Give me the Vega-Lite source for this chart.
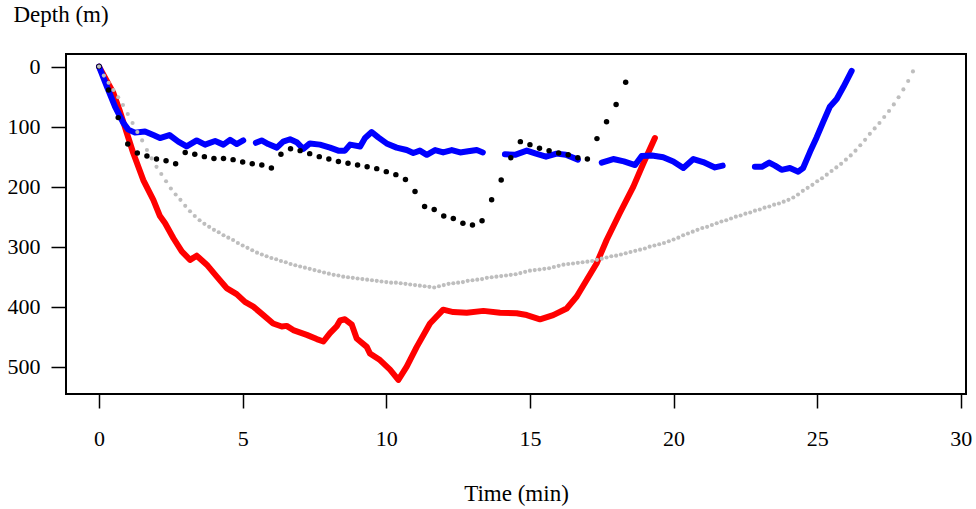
{
  "$schema": "https://vega.github.io/schema/vega-lite/v6.json",
  "width": 900,
  "height": 340,
  "autosize": "none",
  "padding": {"left": 66, "top": 54, "right": 10, "bottom": 115},
  "background": "white",
  "config": {
    "view": {"stroke": "black", "strokeWidth": 2},
    "font": "Liberation Serif",
    "axis": {
      "domain": false,
      "grid": false,
      "tickColor": "black",
      "tickWidth": 1.5,
      "tickSize": 14,
      "labelFont": "Liberation Serif",
      "labelFontSize": 22,
      "labelColor": "black",
      "titleFont": "Liberation Serif",
      "titleFontSize": 23,
      "titleFontWeight": "normal",
      "titleColor": "black"
    }
  },
  "datasets": {
    "red": [
      {"t": 0, "d": 0}, {"t": 0.5, "d": 44}, {"t": 0.73, "d": 75}, {"t": 0.97, "d": 111},
      {"t": 1.19, "d": 144}, {"t": 1.54, "d": 189}, {"t": 1.89, "d": 222}, {"t": 2.12, "d": 249},
      {"t": 2.3, "d": 261}, {"t": 2.59, "d": 286}, {"t": 2.88, "d": 308}, {"t": 3.17, "d": 322},
      {"t": 3.4, "d": 315}, {"t": 3.75, "d": 330}, {"t": 4.1, "d": 350}, {"t": 4.44, "d": 369},
      {"t": 4.79, "d": 379}, {"t": 5.08, "d": 392}, {"t": 5.37, "d": 400}, {"t": 5.72, "d": 414},
      {"t": 6.06, "d": 428}, {"t": 6.36, "d": 433}, {"t": 6.53, "d": 432}, {"t": 6.76, "d": 439},
      {"t": 7.23, "d": 447}, {"t": 7.58, "d": 454}, {"t": 7.81, "d": 458}, {"t": 8.04, "d": 444},
      {"t": 8.27, "d": 433}, {"t": 8.39, "d": 423}, {"t": 8.56, "d": 421}, {"t": 8.8, "d": 430},
      {"t": 8.97, "d": 453}, {"t": 9.32, "d": 467}, {"t": 9.43, "d": 478}, {"t": 9.78, "d": 489},
      {"t": 10.13, "d": 505}, {"t": 10.42, "d": 522}, {"t": 10.71, "d": 500}, {"t": 11.06, "d": 467},
      {"t": 11.52, "d": 428}, {"t": 11.98, "d": 405}, {"t": 12.33, "d": 409}, {"t": 12.8, "d": 410},
      {"t": 13.38, "d": 407}, {"t": 13.96, "d": 410}, {"t": 14.54, "d": 411}, {"t": 14.89, "d": 414},
      {"t": 15.35, "d": 421}, {"t": 15.81, "d": 414}, {"t": 16.28, "d": 403}, {"t": 16.63, "d": 383},
      {"t": 16.98, "d": 355}, {"t": 17.32, "d": 328}, {"t": 17.67, "d": 289}, {"t": 18.13, "d": 244},
      {"t": 18.6, "d": 200}, {"t": 18.95, "d": 161}, {"t": 19.35, "d": 119}
    ],
    "blue": [
      {"t": 0, "d": 0}, {"t": 0.27, "d": 33}, {"t": 0.56, "d": 67}, {"t": 0.85, "d": 94},
      {"t": 1.02, "d": 105}, {"t": 1.25, "d": 110}, {"t": 1.6, "d": 108}, {"t": 1.89, "d": 114},
      {"t": 2.12, "d": 119}, {"t": 2.45, "d": 114}, {"t": 2.76, "d": 125}, {"t": 3.05, "d": 133},
      {"t": 3.4, "d": 123}, {"t": 3.69, "d": 130}, {"t": 4.04, "d": 124}, {"t": 4.33, "d": 130},
      {"t": 4.56, "d": 122}, {"t": 4.79, "d": 129}, {"t": 5.02, "d": 123},
      {"t": 5.2, "d": null},
      {"t": 5.46, "d": 127}, {"t": 5.66, "d": 123}, {"t": 5.89, "d": 129}, {"t": 6.19, "d": 135},
      {"t": 6.41, "d": 125}, {"t": 6.65, "d": 121}, {"t": 6.88, "d": 126}, {"t": 7.11, "d": 137},
      {"t": 7.34, "d": 128}, {"t": 7.69, "d": 130}, {"t": 8.04, "d": 135}, {"t": 8.33, "d": 140},
      {"t": 8.56, "d": 140}, {"t": 8.74, "d": 130}, {"t": 9.09, "d": 133}, {"t": 9.26, "d": 119},
      {"t": 9.49, "d": 109}, {"t": 9.72, "d": 118}, {"t": 10.01, "d": 128}, {"t": 10.36, "d": 135},
      {"t": 10.71, "d": 139}, {"t": 10.94, "d": 144}, {"t": 11.17, "d": 140}, {"t": 11.41, "d": 147},
      {"t": 11.7, "d": 139}, {"t": 11.98, "d": 143}, {"t": 12.28, "d": 139}, {"t": 12.57, "d": 143},
      {"t": 12.85, "d": 141}, {"t": 13.15, "d": 139}, {"t": 13.36, "d": 143},
      {"t": 13.7, "d": null},
      {"t": 14.13, "d": 146}, {"t": 14.48, "d": 147}, {"t": 14.89, "d": 140}, {"t": 15.21, "d": 145},
      {"t": 15.56, "d": 150}, {"t": 15.93, "d": 145}, {"t": 16.25, "d": 147}, {"t": 16.67, "d": 155},
      {"t": 17.1, "d": null},
      {"t": 17.5, "d": 160}, {"t": 17.9, "d": 154}, {"t": 18.27, "d": 158}, {"t": 18.66, "d": 164},
      {"t": 18.89, "d": 149}, {"t": 19.25, "d": 148}, {"t": 19.64, "d": 151}, {"t": 19.99, "d": 158},
      {"t": 20.34, "d": 169}, {"t": 20.69, "d": 154}, {"t": 21.03, "d": 159}, {"t": 21.44, "d": 168},
      {"t": 21.71, "d": 165},
      {"t": 22.3, "d": null},
      {"t": 22.83, "d": 167}, {"t": 23.07, "d": 167}, {"t": 23.33, "d": 160}, {"t": 23.53, "d": 165},
      {"t": 23.76, "d": 172}, {"t": 24.05, "d": 169}, {"t": 24.34, "d": 175}, {"t": 24.51, "d": 169},
      {"t": 24.75, "d": 142}, {"t": 24.98, "d": 118}, {"t": 25.21, "d": 92}, {"t": 25.44, "d": 67},
      {"t": 25.68, "d": 54}, {"t": 25.91, "d": 34}, {"t": 26.2, "d": 7}
    ],
    "black": [
      {"t": 0, "d": 0}, {"t": 0.333, "d": 39}, {"t": 0.667, "d": 85}, {"t": 1, "d": 129},
      {"t": 1.333, "d": 144}, {"t": 1.667, "d": 149}, {"t": 2, "d": 154}, {"t": 2.333, "d": 157},
      {"t": 2.667, "d": 162}, {"t": 3, "d": 143}, {"t": 3.333, "d": 146}, {"t": 3.667, "d": 150},
      {"t": 4, "d": 153}, {"t": 4.333, "d": 153}, {"t": 4.667, "d": 155}, {"t": 5, "d": 159},
      {"t": 5.333, "d": 162}, {"t": 5.667, "d": 164}, {"t": 6, "d": 169}, {"t": 6.333, "d": 146},
      {"t": 6.667, "d": 137}, {"t": 7, "d": 140}, {"t": 7.333, "d": 145}, {"t": 7.667, "d": 150},
      {"t": 8, "d": 154}, {"t": 8.333, "d": 158}, {"t": 8.667, "d": 161}, {"t": 9, "d": 164},
      {"t": 9.333, "d": 167}, {"t": 9.667, "d": 170}, {"t": 10, "d": 175}, {"t": 10.333, "d": 180},
      {"t": 10.667, "d": 188}, {"t": 11, "d": 208}, {"t": 11.333, "d": 233}, {"t": 11.667, "d": 238},
      {"t": 12, "d": 249}, {"t": 12.333, "d": 253}, {"t": 12.667, "d": 261}, {"t": 13, "d": 264},
      {"t": 13.333, "d": 257}, {"t": 13.667, "d": 222}, {"t": 14, "d": 189}, {"t": 14.333, "d": 152},
      {"t": 14.667, "d": 125}, {"t": 15, "d": 130}, {"t": 15.333, "d": 136}, {"t": 15.667, "d": 140},
      {"t": 16, "d": 144}, {"t": 16.333, "d": 147}, {"t": 16.667, "d": 152}, {"t": 17, "d": 154},
      {"t": 17.333, "d": 120}, {"t": 17.667, "d": 92}, {"t": 18, "d": 63}, {"t": 18.333, "d": 26}
    ],
    "gray": [
      {"t": 0, "d": 0}, {"t": 0.167, "d": 15}, {"t": 0.333, "d": 27}, {"t": 0.5, "d": 39},
      {"t": 0.667, "d": 51}, {"t": 0.833, "d": 64}, {"t": 1, "d": 79}, {"t": 1.167, "d": 94},
      {"t": 1.333, "d": 109}, {"t": 1.5, "d": 123}, {"t": 1.667, "d": 139}, {"t": 1.833, "d": 153},
      {"t": 2, "d": 167}, {"t": 2.167, "d": 179}, {"t": 2.333, "d": 191}, {"t": 2.5, "d": 203},
      {"t": 2.667, "d": 213}, {"t": 2.833, "d": 222}, {"t": 3, "d": 232}, {"t": 3.167, "d": 241},
      {"t": 3.333, "d": 249}, {"t": 3.5, "d": 256}, {"t": 3.667, "d": 262}, {"t": 3.833, "d": 267},
      {"t": 4, "d": 272}, {"t": 4.167, "d": 276}, {"t": 4.333, "d": 281}, {"t": 4.5, "d": 285},
      {"t": 4.667, "d": 289}, {"t": 4.833, "d": 294}, {"t": 5, "d": 298}, {"t": 5.167, "d": 302},
      {"t": 5.333, "d": 306}, {"t": 5.5, "d": 310}, {"t": 5.667, "d": 313}, {"t": 5.833, "d": 316},
      {"t": 6, "d": 319}, {"t": 6.167, "d": 321}, {"t": 6.333, "d": 324}, {"t": 6.5, "d": 326},
      {"t": 6.667, "d": 329}, {"t": 6.833, "d": 331}, {"t": 7, "d": 333}, {"t": 7.167, "d": 335},
      {"t": 7.333, "d": 337}, {"t": 7.5, "d": 339}, {"t": 7.667, "d": 341}, {"t": 7.833, "d": 343},
      {"t": 8, "d": 345}, {"t": 8.167, "d": 347}, {"t": 8.333, "d": 348}, {"t": 8.5, "d": 350},
      {"t": 8.667, "d": 351}, {"t": 8.833, "d": 352}, {"t": 9, "d": 353}, {"t": 9.167, "d": 354},
      {"t": 9.333, "d": 355}, {"t": 9.5, "d": 356}, {"t": 9.667, "d": 357}, {"t": 9.833, "d": 358},
      {"t": 10, "d": 359}, {"t": 10.167, "d": 360}, {"t": 10.333, "d": 360}, {"t": 10.5, "d": 361},
      {"t": 10.667, "d": 362}, {"t": 10.833, "d": 363}, {"t": 11, "d": 364}, {"t": 11.167, "d": 365},
      {"t": 11.333, "d": 366}, {"t": 11.5, "d": 367}, {"t": 11.667, "d": 368}, {"t": 11.833, "d": 366},
      {"t": 12, "d": 364}, {"t": 12.167, "d": 362}, {"t": 12.333, "d": 361}, {"t": 12.5, "d": 360},
      {"t": 12.667, "d": 359}, {"t": 12.833, "d": 357}, {"t": 13, "d": 356}, {"t": 13.167, "d": 355},
      {"t": 13.333, "d": 354}, {"t": 13.5, "d": 352}, {"t": 13.667, "d": 351}, {"t": 13.833, "d": 350},
      {"t": 14, "d": 349}, {"t": 14.167, "d": 348}, {"t": 14.333, "d": 347}, {"t": 14.5, "d": 346},
      {"t": 14.667, "d": 344}, {"t": 14.833, "d": 342}, {"t": 15, "d": 340}, {"t": 15.167, "d": 339},
      {"t": 15.333, "d": 338}, {"t": 15.5, "d": 337}, {"t": 15.667, "d": 336}, {"t": 15.833, "d": 334},
      {"t": 16, "d": 332}, {"t": 16.167, "d": 330}, {"t": 16.333, "d": 329}, {"t": 16.5, "d": 328},
      {"t": 16.667, "d": 327}, {"t": 16.833, "d": 326}, {"t": 17, "d": 325}, {"t": 17.167, "d": 324},
      {"t": 17.333, "d": 322}, {"t": 17.5, "d": 320}, {"t": 17.667, "d": 318}, {"t": 17.833, "d": 316},
      {"t": 18, "d": 315}, {"t": 18.167, "d": 313}, {"t": 18.333, "d": 311}, {"t": 18.5, "d": 309},
      {"t": 18.667, "d": 307}, {"t": 18.833, "d": 305}, {"t": 19, "d": 303}, {"t": 19.167, "d": 300},
      {"t": 19.333, "d": 298}, {"t": 19.5, "d": 296}, {"t": 19.667, "d": 294}, {"t": 19.833, "d": 291},
      {"t": 20, "d": 288}, {"t": 20.167, "d": 285}, {"t": 20.333, "d": 281}, {"t": 20.5, "d": 278},
      {"t": 20.667, "d": 275}, {"t": 20.833, "d": 272}, {"t": 21, "d": 269}, {"t": 21.167, "d": 267},
      {"t": 21.333, "d": 264}, {"t": 21.5, "d": 261}, {"t": 21.667, "d": 258}, {"t": 21.833, "d": 256},
      {"t": 22, "d": 253}, {"t": 22.167, "d": 250}, {"t": 22.333, "d": 248}, {"t": 22.5, "d": 245},
      {"t": 22.667, "d": 243}, {"t": 22.833, "d": 240}, {"t": 23, "d": 238}, {"t": 23.167, "d": 235},
      {"t": 23.333, "d": 233}, {"t": 23.5, "d": 230}, {"t": 23.667, "d": 228}, {"t": 23.833, "d": 225},
      {"t": 24, "d": 222}, {"t": 24.167, "d": 218}, {"t": 24.333, "d": 213}, {"t": 24.5, "d": 207},
      {"t": 24.667, "d": 202}, {"t": 24.833, "d": 197}, {"t": 25, "d": 191}, {"t": 25.167, "d": 186},
      {"t": 25.333, "d": 180}, {"t": 25.5, "d": 174}, {"t": 25.667, "d": 168}, {"t": 25.833, "d": 162},
      {"t": 26, "d": 155}, {"t": 26.167, "d": 148}, {"t": 26.333, "d": 140}, {"t": 26.5, "d": 131},
      {"t": 26.667, "d": 122}, {"t": 26.833, "d": 112}, {"t": 27, "d": 103}, {"t": 27.167, "d": 94},
      {"t": 27.333, "d": 84}, {"t": 27.5, "d": 74}, {"t": 27.667, "d": 63}, {"t": 27.833, "d": 51},
      {"t": 28, "d": 38}, {"t": 28.167, "d": 24}, {"t": 28.333, "d": 8}
    ]
  },
  "encoding": {
    "x": {
      "field": "t",
      "type": "quantitative",
      "scale": {"domain": [-1.15, 30.18], "nice": false, "zero": false},
      "axis": {
        "values": [0, 5, 10, 15, 20, 25, 30],
        "title": "Time (min)",
        "labelBaseline": "alphabetic",
        "labelPadding": 37,
        "titleBaseline": "alphabetic",
        "titleY": 106
      }
    },
    "y": {
      "field": "d",
      "type": "quantitative",
      "scale": {"domain": [-21, 545.5], "reverse": true, "nice": false, "zero": false},
      "axis": {
        "values": [0, 100, 200, 300, 400, 500],
        "title": "Depth (m)",
        "tickSize": 15,
        "labelPadding": 11,
        "labelBaseline": "middle",
        "titleAngle": 0,
        "titleAlign": "left",
        "titleBaseline": "alphabetic",
        "titleX": -53,
        "titleY": -33
      }
    }
  },
  "layer": [
    {
      "data": {"name": "red"},
      "mark": {"type": "line", "color": "#ff0000", "strokeWidth": 6, "strokeCap": "round", "strokeJoin": "round"}
    },
    {
      "data": {"name": "blue"},
      "mark": {"type": "line", "color": "#0000ff", "strokeWidth": 6, "strokeCap": "round", "strokeJoin": "round"}
    },
    {
      "data": {"name": "black"},
      "mark": {"type": "circle", "color": "black", "size": 30, "opacity": 1}
    },
    {
      "data": {"name": "gray"},
      "mark": {"type": "circle", "color": "#bebebe", "size": 17, "opacity": 1}
    }
  ]
}
